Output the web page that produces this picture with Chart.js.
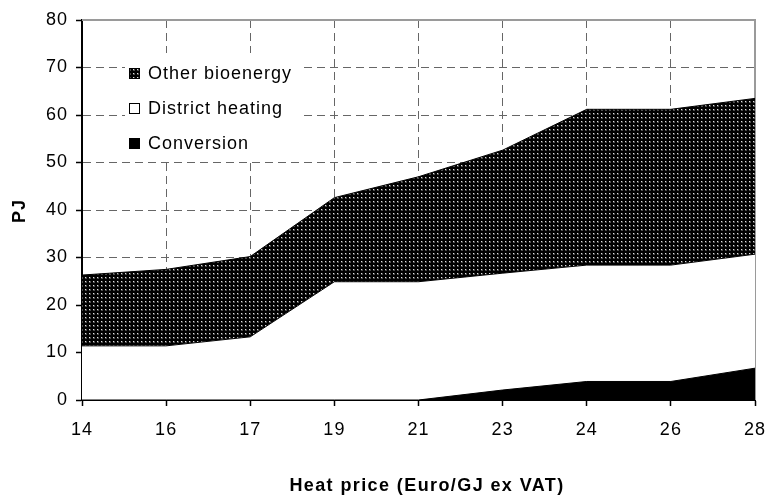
<!DOCTYPE html>
<html>
<head>
<meta charset="utf-8">
<script src="https://cdn.jsdelivr.net/npm/chart.js@4.4.1/dist/chart.umd.min.js"></script>
<style>
  html, body { margin: 0; padding: 0; background: #fff; }
  #wrap { width: 768px; height: 498px; position: relative; }
</style>
</head>
<body>
<div id="wrap"><canvas id="heat"></canvas></div>
<script>
// heat price categories (Euro/GJ ex VAT)
const prices = ["14", "16", "17", "19", "21", "23", "24", "26", "28"];
// PJ per series (stacked)
const conversion = [0, 0, 0, 0, 0, 2.1, 3.9, 3.9, 6.7];
const districtHeating = [11.4, 11.4, 13.3, 24.9, 24.9, 24.6, 24.5, 24.5, 24.0];
const otherBioenergy = [14.9, 16.1, 16.9, 17.7, 22.1, 25.9, 32.8, 32.8, 32.8];
const yTicks = [0, 10, 20, 30, 40, 50, 60, 70, 80];

const FONT = "'Liberation Sans', Arial, sans-serif";

// dark dotted fill like the old excel pattern
function dotPattern() {
    const c = document.createElement("canvas");
    c.width = 4;
    c.height = 4;
    const g = c.getContext("2d");
    g.fillStyle = "#000";
    g.fillRect(0, 0, 4, 4);
    g.fillStyle = "#4a4a4a";
    g.fillRect(1, 1, 2, 2);
    g.fillStyle = "#e0e0e0";
    g.fillRect(1, 1, 1, 1);
    return g.createPattern(c, "repeat");
}
const dots = dotPattern();

// wider letter spacing for the chart's own tick labels
const spacing = {
    id: "spacing",
    beforeDraw(chart) { chart.ctx.letterSpacing = "1px"; }
};

// gray frame on top / right of the plot
const framePlugin = {
    id: "frame",
    beforeDatasetsDraw(chart) {
        const a = chart.chartArea, ctx = chart.ctx;
        ctx.save();
        ctx.strokeStyle = "#9a9a9a";
        ctx.lineWidth = 2;
        ctx.beginPath();
        ctx.moveTo(a.left, a.top);
        ctx.lineTo(a.right, a.top);
        ctx.lineTo(a.right, a.bottom);
        ctx.stroke();
        ctx.restore();
    }
};

// axis titles + legend inside the plot area
const labelsPlugin = {
    id: "labels",
    afterDraw(chart) {
        const ctx = chart.ctx;
        ctx.save();
        ctx.fillStyle = "#000";
        ctx.font = "bold 18px " + FONT;
        ctx.textAlign = "center";
        ctx.textBaseline = "alphabetic";
        ctx.letterSpacing = "1.4px";
        ctx.fillText("Heat price (Euro/GJ ex VAT)", 427, 491);

        ctx.letterSpacing = "1px";
        ctx.translate(25, 211);
        ctx.rotate(-Math.PI / 2);
        ctx.fillText("PJ", 0, 0);
        ctx.restore();

        const items = [
            { text: "Other bioenergy", fill: dots, y: 73 },
            { text: "District heating", fill: "#fff", y: 108 },
            { text: "Conversion", fill: "#000", y: 143 }
        ];
        ctx.save();
        ctx.fillStyle = "#fff";
        ctx.fillRect(125, 53, 177, 109);
        ctx.font = "18px " + FONT;
        ctx.textAlign = "left";
        ctx.textBaseline = "middle";
        ctx.letterSpacing = "1px";
        items.forEach(function (it) {
            ctx.fillStyle = it.fill;
            ctx.fillRect(129, it.y - 5, 11, 11);
            ctx.strokeStyle = "#000";
            ctx.lineWidth = 1;
            ctx.strokeRect(129.5, it.y - 4.5, 10, 10);
            ctx.fillStyle = "#000";
            ctx.fillText(it.text, 148, it.y + 1);
        });
        ctx.restore();
    }
};

const gridDash = [8, 5];

new Chart(document.getElementById("heat"), {
    type: "line",
    data: {
        labels: prices,
        datasets: [{
            label: "Conversion",
            data: conversion,
            backgroundColor: "#000",
            borderColor: "#000",
            borderWidth: 1,
            fill: "origin"
        }, {
            label: "District heating",
            data: districtHeating,
            backgroundColor: "#fff",
            borderColor: "#000",
            borderWidth: 1,
            fill: "-1"
        }, {
            label: "Other bioenergy",
            data: otherBioenergy,
            backgroundColor: dots,
            borderColor: "#000",
            borderWidth: 1,
            fill: "-1"
        }]
    },
    options: {
        responsive: true,
        maintainAspectRatio: false,
        animation: false,
        layout: { padding: { top: 20, right: 13, left: 0, bottom: 0 } },
        elements: {
            point: { radius: 0, hoverRadius: 0 },
            line: { tension: 0 }
        },
        plugins: {
            legend: { display: false },
            tooltip: { enabled: false }
        },
        scales: {
            x: {
                offset: false,
                grid: {
                    color: "#666",
                    tickLength: 6,
                    tickBorderDash: [],
                    tickColor: "#000",
                    tickWidth: 1.5
                },
                border: { color: "#000", width: 2, dash: gridDash },
                ticks: {
                    color: "#000",
                    font: { family: FONT, size: 18 },
                    padding: 13,
                    maxRotation: 0
                },
                afterFit(scale) {
                    scale.height = 98;
                    scale.paddingLeft = 0;
                    scale.paddingRight = 0;
                }
            },
            y: {
                stacked: true,
                min: 0,
                max: 80,
                afterBuildTicks(scale) {
                    scale.ticks = yTicks.map(function (v) { return { value: v }; });
                },
                grid: {
                    color: "#666",
                    tickLength: 6,
                    tickBorderDash: [],
                    tickColor: "#000",
                    tickWidth: 1.5
                },
                border: { color: "#000", width: 2, dash: gridDash },
                ticks: {
                    color: "#000",
                    font: { family: FONT, size: 18 },
                    padding: 8
                },
                afterFit(scale) {
                    scale.width = 82;
                    scale.paddingTop = 0;
                    scale.paddingBottom = 0;
                }
            }
        }
    },
    plugins: [spacing, framePlugin, labelsPlugin]
});
</script>
</body>
</html>
